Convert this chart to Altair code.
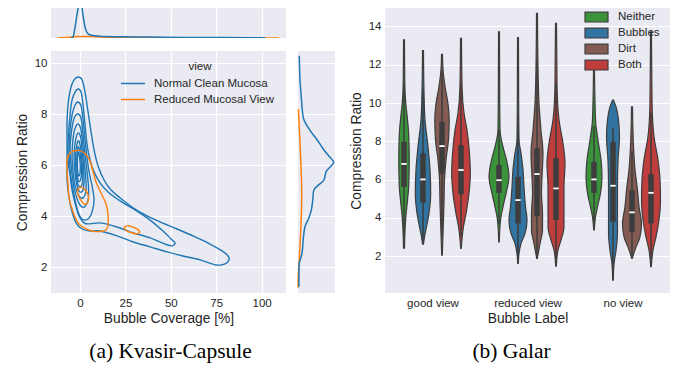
import json
import altair as alt
import pandas as pd

FONT = "Liberation Sans"
SERIF = "Liberation Serif"
INK = "#262626"
BG = "#EAEAF2"
DARK = "#3d3d3d"

# ---------------- (a) Kvasir-Capsule ----------------
VIEWS = ["Normal Clean Mucosa", "Reduced Mucosal View"]
VIEW_COLORS = ["#1f77b4", "#ff7f0e"]

# KDE iso-lines: (bubble coverage [%], compression ratio)
BLUE_L1 = [(-1.10, 9.46), (1.10, 9.35), (2.75, 8.87), (4.41, 8.09), (6.06, 7.31), (7.71, 6.60),
           (9.91, 5.97), (13.22, 5.42), (17.07, 5.03), (22.03, 4.72), (29.19, 4.33), (36.89, 4.01),
           (44.05, 3.78), (53.41, 3.50), (63.33, 3.19), (71.59, 2.91), (78.19, 2.64), (81.50, 2.44),
           (82.05, 2.29), (79.85, 2.13), (74.89, 2.09), (66.08, 2.29), (56.72, 2.44), (47.91, 2.60),
           (38.55, 2.80), (29.19, 2.99), (20.37, 3.23), (11.01, 3.42), (5.51, 3.42), (1.10, 3.50),
           (-2.20, 3.74), (-4.41, 4.17), (-6.06, 4.72), (-7.16, 5.42), (-7.16, 6.21), (-7.16, 6.87),
           (-7.16, 7.78), (-6.33, 8.56), (-4.96, 9.07), (-3.30, 9.35)]
BLUE_L2 = [(-1.10, 8.99), (0.55, 8.87), (1.65, 8.36), (2.75, 7.58), (3.85, 6.80), (5.51, 6.21),
           (7.71, 5.74), (11.01, 5.31), (15.42, 4.95), (22.03, 4.60), (30.29, 4.25), (38.55, 3.85),
           (45.70, 3.42), (50.11, 3.11), (52.31, 2.95), (50.66, 2.84), (46.81, 2.91), (38.55, 3.15),
           (29.19, 3.35), (22.03, 3.54), (14.32, 3.70), (9.91, 3.74), (5.51, 3.70), (2.20, 3.74),
           (-0.55, 4.01), (-2.75, 4.52), (-4.41, 5.03), (-5.51, 5.62), (-6.61, 6.21), (-6.61, 6.99),
           (-5.51, 7.97), (-4.41, 8.56), (-2.75, 8.87)]
BLUE_L3 = [(-1.10, 8.48), (0.55, 8.33), (1.65, 7.78), (2.75, 6.99), (3.85, 6.29), (4.96, 5.74),
           (6.61, 5.19), (7.71, 4.64), (6.61, 4.17), (4.41, 3.89), (1.10, 3.89), (-1.10, 4.17),
           (-2.75, 4.64), (-4.41, 5.23), (-5.51, 5.82), (-6.06, 6.60), (-5.51, 7.38), (-4.41, 7.97),
           (-2.75, 8.36)]
BLUE_L4 = [(-1.10, 8.01), (0.55, 7.85), (1.65, 7.19), (2.75, 6.40), (3.85, 5.74), (4.68, 5.11),
           (4.41, 4.64), (2.20, 4.36), (0.00, 4.44), (-2.20, 4.80), (-3.85, 5.34), (-4.96, 6.02),
           (-5.51, 6.60), (-4.96, 7.19), (-3.85, 7.70), (-2.75, 7.93)]
BLUE_L5 = [(-1.10, 7.62), (0.28, 7.46), (1.38, 6.91), (2.20, 6.21), (3.03, 5.58), (3.30, 5.03),
           (1.65, 4.72), (-0.55, 4.80), (-2.75, 5.19), (-3.85, 5.74), (-4.41, 6.29), (-4.13, 6.84),
           (-3.30, 7.31), (-2.20, 7.54)]
BLUE_L6 = [(-1.10, 7.27), (0.28, 7.11), (1.10, 6.60), (1.82, 6.02), (2.20, 5.42), (1.65, 5.03),
           (0.00, 4.95), (-1.65, 5.19), (-2.75, 5.66), (-3.30, 6.21), (-3.03, 6.68), (-2.20, 7.07)]
BLUE_L7 = [(-1.10, 6.95), (0.00, 6.80), (0.83, 6.33), (1.38, 5.82), (1.38, 5.34), (0.00, 5.15),
           (-1.38, 5.31), (-2.20, 5.74), (-2.48, 6.21), (-2.20, 6.60)]
BLUE_L8 = [(-1.10, 6.72), (-0.17, 6.56), (0.55, 6.13), (0.83, 5.74), (0.28, 5.42), (-0.83, 5.38),
           (-1.65, 5.66), (-1.82, 6.09), (-1.65, 6.44)]
BLUE_L9 = [(-1.10, 6.52), (-0.39, 6.36), (0.11, 6.02), (0.00, 5.70), (-0.72, 5.58), (-1.38, 5.78),
           (-1.49, 6.13), (-1.38, 6.36)]
ORANGE_L1 = [(-7.16, 6.21), (-5.51, 6.48), (-2.20, 6.58), (1.65, 6.52), (4.96, 6.25), (6.88, 5.82),
             (8.81, 5.34), (11.56, 4.91), (14.32, 4.48), (15.42, 4.05), (15.42, 3.66), (14.32, 3.46),
             (11.01, 3.40), (6.61, 3.42), (2.20, 3.54), (-1.10, 3.74), (-3.85, 4.17), (-6.06, 4.72),
             (-6.61, 5.23), (-7.16, 5.74)]
ORANGE_L2 = [(-1.10, 5.07), (1.10, 5.13), (3.30, 4.99), (4.68, 4.76), (4.13, 4.52), (2.20, 4.48),
             (0.00, 4.68), (-1.38, 4.91)]
ORANGE_L3 = [(24.50, 3.58), (26.98, 3.62), (30.29, 3.54), (32.76, 3.40), (31.39, 3.31), (28.08, 3.36),
             (25.33, 3.44)]
BLUE_CONTOURS = [BLUE_L1, BLUE_L2, BLUE_L3, BLUE_L4, BLUE_L5, BLUE_L6, BLUE_L7, BLUE_L8, BLUE_L9]
ORANGE_CONTOURS = [ORANGE_L1, ORANGE_L2, ORANGE_L3]

# marginal densities (top: over bubble coverage, right: over compression ratio)
TOP_X_BLUE = [-4.96, -3.85, -2.75, -1.65, -0.83, 0.0, 0.83, 1.65, 2.75, 4.13, 6.06, 11.01, 22.03,
              38.55, 55.07, 77.09, 101.9]
TOP_D_BLUE = [0.0, 0.033, 0.30, 0.66, 0.88, 1.0, 0.91, 0.63, 0.30, 0.13, 0.075, 0.047, 0.033,
              0.025, 0.017, 0.011, 0.006]
TOP_X_ORANGE = [-12.3, -6.0, -2.0, 2.0, 6.0, 12.0, 25.0, 50.0, 80.0, 109.6]
TOP_D_ORANGE = [0.003, 0.02, 0.04, 0.045, 0.04, 0.025, 0.012, 0.006, 0.004, 0.002]
RIGHT_Y_BLUE = [10.29, 9.35, 8.56, 8.17, 7.78, 7.38, 6.99, 6.60, 6.27, 6.12, 5.95, 5.75, 5.42, 5.22,
                5.03, 4.64, 4.24, 3.92, 3.59, 3.07, 2.55, 2.16, 1.76, 1.24]
RIGHT_D_BLUE = [0.035, 0.054, 0.095, 0.116, 0.16, 0.32, 0.52, 0.70, 0.89, 0.965, 0.88, 0.76, 0.70,
                0.55, 0.43, 0.40, 0.36, 0.29, 0.19, 0.14, 0.11, 0.035, 0.027, 0.027]
RIGHT_Y_ORANGE = [8.2, 7.0, 6.0, 5.0, 4.0, 3.0, 2.2, 1.6, 1.2]
RIGHT_D_ORANGE = [0.01, 0.05, 0.08, 0.10, 0.09, 0.06, 0.03, 0.005, 0.005]

# ---------------- (b) Galar ----------------
BUBBLE_LABELS = ["good view", "reduced view", "no view"]
HUES = ["Neither", "Bubbles", "Dirt", "Both"]
HUE_COLORS = ["#3a923a", "#3274a1", "#845b53", "#c03d3e"]

# violin outlines: compression ratio levels and half widths (category-axis units)
GOOD_Y = [[13.3, 11.2, 10.15, 9.36, 8.58, 7.80, 7.02, 6.23, 5.45, 4.93, 4.15, 3.37, 2.42],
          [12.73, 10.5, 9.11, 7.71, 6.50, 5.29, 4.25, 3.54, 3.01, 2.63],
          [12.54, 11.72, 10.85, 9.98, 9.11, 8.06, 7.02, 5.98, 4.77, 3.54, 2.06],
          [13.37, 10.85, 9.46, 8.58, 7.37, 6.32, 5.28, 4.24, 3.54, 2.41]]
GOOD_W = [[0.005, 0.008, 0.016, 0.032, 0.047, 0.053, 0.055, 0.053, 0.047, 0.037, 0.021, 0.011, 0.005],
          [0.005, 0.011, 0.021, 0.053, 0.074, 0.081, 0.063, 0.037, 0.016, 0.005],
          [0.005, 0.011, 0.032, 0.063, 0.076, 0.068, 0.042, 0.026, 0.021, 0.013, 0.003],
          [0.005, 0.011, 0.032, 0.063, 0.089, 0.098, 0.084, 0.053, 0.026, 0.003]]
REDUCED_Y = [[13.72, 10.5, 8.58, 7.71, 7.02, 6.15, 5.28, 4.58, 3.89, 2.75],
             [13.41, 10.0, 8.06, 7.37, 6.50, 5.62, 4.58, 3.89, 3.19, 2.67, 2.15, 1.62],
             [14.68, 11.72, 9.98, 8.58, 7.37, 6.15, 5.28, 4.24, 3.37, 2.67, 1.89],
             [14.16, 10.85, 9.11, 7.89, 6.85, 5.62, 4.58, 3.54, 2.84, 2.32, 1.48]]
REDUCED_W = [[0.005, 0.007, 0.011, 0.042, 0.079, 0.105, 0.074, 0.042, 0.016, 0.003],
             [0.005, 0.007, 0.011, 0.032, 0.053, 0.063, 0.079, 0.095, 0.074, 0.032, 0.011, 0.003],
             [0.005, 0.011, 0.021, 0.042, 0.063, 0.053, 0.047, 0.058, 0.058, 0.032, 0.003],
             [0.005, 0.011, 0.032, 0.074, 0.095, 0.084, 0.084, 0.084, 0.053, 0.021, 0.003]]
NO_Y = [[11.81, 9.11, 8.06, 7.02, 6.15, 5.28, 4.58, 4.06, 3.37],
        [10.15, 9.80, 9.11, 8.24, 7.02, 5.62, 4.24, 3.19, 2.32, 1.62, 0.75],
        [9.80, 7.71, 6.50, 5.45, 4.58, 3.71, 3.01, 2.41, 1.89],
        [13.72, 9.98, 8.24, 7.02, 5.98, 4.93, 3.89, 3.01, 2.32, 1.45]]
NO_W = [[0.005, 0.016, 0.042, 0.074, 0.084, 0.068, 0.037, 0.016, 0.003],
        [0.005, 0.032, 0.058, 0.068, 0.053, 0.047, 0.047, 0.047, 0.032, 0.011, 0.003],
        [0.005, 0.016, 0.032, 0.058, 0.074, 0.100, 0.084, 0.037, 0.003],
        [0.005, 0.011, 0.032, 0.074, 0.095, 0.100, 0.084, 0.053, 0.021, 0.003]]

# inner box statistics per label (rows) and hue (columns)
Q1 = [[5.62, 4.79, 6.28, 5.23], [5.31, 3.71, 4.09, 3.89], [5.31, 3.80, 3.27, 3.71]]
MEDIAN = [[6.82, 6.01, 7.75, 6.50], [5.97, 4.93, 6.29, 5.54], [6.01, 5.68, 4.29, 5.31]]
Q3 = [[7.97, 7.37, 9.02, 7.80], [6.76, 6.15, 7.63, 7.11], [6.93, 7.97, 5.45, 6.29]]
WHISK_LO = [[3.0, 2.7, 2.9, 3.0], [3.7, 1.9, 1.9, 1.5], [3.4, 0.8, 2.0, 1.5]]
WHISK_HI = [[11.0, 10.7, 11.7, 11.1], [8.6, 9.4, 12.3, 11.1], [8.8, 8.7, 7.5, 9.5]]

# ---------------- tables ----------------
rows = []
for view, contours in ((VIEWS[0], BLUE_CONTOURS), (VIEWS[1], ORANGE_CONTOURS)):
    for c, pts in enumerate(contours):
        for i, (x, y) in enumerate(pts):
            rows.append({"view": view, "cid": f"{view}-{c}", "i": i, "x": x, "y": y})
contour_df = pd.DataFrame(rows)

top_df = pd.DataFrame(
    [{"view": VIEWS[0], "x": x, "d": d} for x, d in zip(TOP_X_BLUE, TOP_D_BLUE)]
    + [{"view": VIEWS[1], "x": x, "d": d} for x, d in zip(TOP_X_ORANGE, TOP_D_ORANGE)])
right_df = pd.DataFrame(
    [{"view": VIEWS[0], "y": y, "d": d} for y, d in zip(RIGHT_Y_BLUE, RIGHT_D_BLUE)]
    + [{"view": VIEWS[1], "y": y, "d": d} for y, d in zip(RIGHT_Y_ORANGE, RIGHT_D_ORANGE)])

n_hue = len(HUES)
dodge = 0.8 / n_hue
v_rows, b_rows = [], []
for ci, (ys_all, ws_all) in enumerate(((GOOD_Y, GOOD_W), (REDUCED_Y, REDUCED_W), (NO_Y, NO_W))):
    for hi, hue in enumerate(HUES):
        center = ci + (hi - (n_hue - 1) / 2) * dodge
        for y, w in zip(ys_all[hi], ws_all[hi]):
            v_rows.append({"vid": f"{ci}-{hi}", "hue": hue, "y": y, "xl": center - w, "xr": center + w})
        b_rows.append({"vid": f"{ci}-{hi}", "c": center, "m1": center - 0.028, "m2": center + 0.028,
                       "q1": Q1[ci][hi], "med": MEDIAN[ci][hi], "q3": Q3[ci][hi],
                       "lo": WHISK_LO[ci][hi], "hi": WHISK_HI[ci][hi]})
violin_df = pd.DataFrame(v_rows)
box_df = pd.DataFrame(b_rows)

# ---------------- scales / axes ----------------
X_MAIN = alt.Scale(domain=[-16, 113.4], nice=False, zero=False)
Y_MAIN = alt.Scale(domain=[0.99, 10.48], nice=False, zero=False)
VIEW_SCALE = alt.Scale(domain=VIEWS, range=VIEW_COLORS)
X_TICKS = [0, 25, 50, 75, 100]
Y_TICKS = [2, 4, 6, 8, 10]

main_legend = alt.Legend(
    title="view", orient="none", legendX=75, legendY=10, symbolType="M-2,0H2", symbolSize=144,
    symbolStrokeWidth=1.5, labelFontSize=11.5, titleFontSize=11.5, titleFontWeight="normal",
    titleAnchor="middle", titlePadding=4, rowPadding=3, labelOffset=14, padding=0,
    labelColor=INK, titleColor=INK, labelFont=FONT, titleFont=FONT)

CAPTION = dict(orient="bottom", anchor="middle", offset=16, font=SERIF, fontSize=21.5,
               fontWeight="normal", color="black")


def contour_layer(view):
    return alt.Chart(contour_df[contour_df.view == view]).mark_line(
        interpolate="cardinal-closed", strokeWidth=1.4
    ).encode(
        x=alt.X("x:Q", scale=X_MAIN, axis=alt.Axis(values=X_TICKS, title="Bubble Coverage [%]")),
        y=alt.Y("y:Q", scale=Y_MAIN, axis=alt.Axis(values=Y_TICKS, title="Compression Ratio")),
        color=alt.Color("view:N", scale=VIEW_SCALE, legend=main_legend),
        detail="cid:N",
        order="i:Q",
    )


main = alt.layer(contour_layer(VIEWS[0]), contour_layer(VIEWS[1])).properties(
    width=235, height=242, title=alt.TitleParams("(a) Kvasir-Capsule", dx=2, **CAPTION))


def top_layer(view):
    return alt.Chart(top_df[top_df.view == view]).mark_line(
        interpolate="monotone", strokeWidth=1.5, clip=True
    ).encode(
        x=alt.X("x:Q", scale=X_MAIN, axis=alt.Axis(values=X_TICKS, labels=False, title=None)),
        y=alt.Y("d:Q", scale=alt.Scale(domain=[0, 0.833], nice=False, zero=False), axis=None),
        color=alt.Color("view:N", scale=VIEW_SCALE, legend=None),
    )


top = alt.layer(top_layer(VIEWS[1]), top_layer(VIEWS[0])).properties(width=235, height=30)


def right_layer(view):
    return alt.Chart(right_df[right_df.view == view]).mark_line(
        interpolate="catmull-rom", strokeWidth=1.5
    ).encode(
        y=alt.Y("y:Q", scale=Y_MAIN, axis=alt.Axis(values=Y_TICKS, labels=False, title=None)),
        x=alt.X("d:Q", scale=alt.Scale(domain=[0, 1.0], nice=False, zero=False), axis=None),
        color=alt.Color("view:N", scale=VIEW_SCALE, legend=None),
        order="y:Q",
    )


right = alt.layer(right_layer(VIEWS[1]), right_layer(VIEWS[0])).properties(width=37, height=242)

# violin panel
VX = alt.Scale(domain=[-0.5, len(BUBBLE_LABELS) - 0.5], nice=False, zero=False)
VY = alt.Scale(domain=[0.08, 14.96], nice=False, zero=False)
label_expr = json.dumps(BUBBLE_LABELS) + "[datum.value]"
vx_axis = alt.Axis(values=list(range(len(BUBBLE_LABELS))), labelExpr=label_expr,
                   title="Bubble Label", grid=False)
vy_axis = alt.Axis(values=[2, 4, 6, 8, 10, 12, 14], title="Compression Ratio")

hue_legend = alt.Legend(
    title=None, orient="none", legendX=205, legendY=2.6, symbolType="M-2,-0.85H2V0.85H-2Z",
    symbolSize=132, symbolStrokeColor=DARK, symbolStrokeWidth=1.2, labelFontSize=11.5,
    labelOffset=15, rowPadding=1, padding=0, labelColor=INK, labelFont=FONT, symbolOpacity=1)

areas = alt.Chart(violin_df).mark_area(
    orient="horizontal", interpolate="monotone", stroke=DARK, strokeWidth=1.2, opacity=1
).encode(
    y=alt.Y("y:Q", scale=VY, axis=vy_axis),
    x=alt.X("xl:Q", scale=VX, axis=vx_axis),
    x2="xr:Q",
    fill=alt.Fill("hue:N", scale=alt.Scale(domain=HUES, range=HUE_COLORS), legend=hue_legend),
    detail="vid:N",
)
whiskers = alt.Chart(box_df).mark_rule(color=DARK, strokeWidth=1.5).encode(
    x=alt.X("c:Q", scale=VX, axis=vx_axis), y=alt.Y("lo:Q", scale=VY, axis=vy_axis), y2="hi:Q")
boxes = alt.Chart(box_df).mark_rule(color=DARK, strokeWidth=5.5).encode(
    x=alt.X("c:Q", scale=VX, axis=vx_axis), y=alt.Y("q1:Q", scale=VY, axis=vy_axis), y2="q3:Q")
medians = alt.Chart(box_df).mark_rule(color="white", strokeWidth=1.8).encode(
    x=alt.X("m1:Q", scale=VX, axis=vx_axis), x2="m2:Q", y=alt.Y("med:Q", scale=VY, axis=vy_axis))

violin = alt.layer(areas, whiskers, boxes, medians).properties(
    width=285, height=285, title=alt.TitleParams("(b) Galar", dx=-16, **CAPTION))

left_bottom = alt.hconcat(main, right, spacing=12, bounds="flush").resolve_scale(
    color="independent").resolve_legend(color="independent")
left = alt.vconcat(top, left_bottom, spacing=13, bounds="flush").resolve_scale(
    color="independent").resolve_legend(color="independent")
chart = alt.hconcat(left, violin, spacing=12).resolve_scale(
    color="independent", fill="independent").resolve_legend(
    color="independent", fill="independent").properties(
    padding={"left": 7, "top": 0, "right": 0, "bottom": 0})

chart = chart.configure(font=FONT).configure_view(fill=BG, stroke=None).configure_axis(
    domain=False, ticks=False, tickSize=0, grid=True, gridColor="white", gridWidth=1.2,
    labelFont=FONT, labelFontSize=11.5, labelColor=INK, labelPadding=4,
    titleFont=FONT, titleFontSize=13.8, titleFontWeight="normal", titleColor=INK, titlePadding=5
).configure_axisX(titlePadding=3)

chart.save("out.html", embed_options={"renderer": "svg", "actions": False})
